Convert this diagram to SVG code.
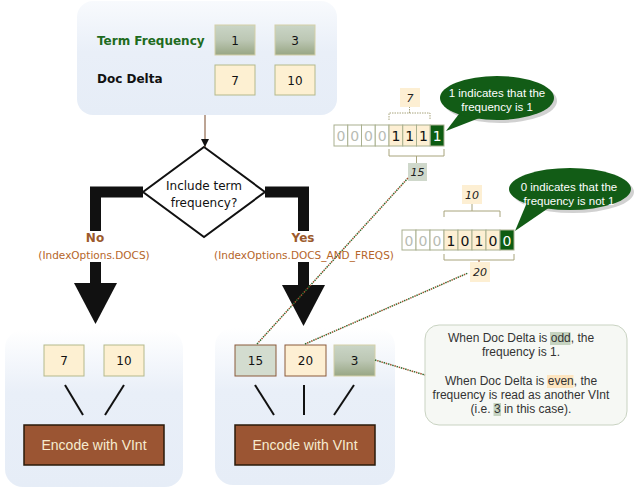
<svg xmlns="http://www.w3.org/2000/svg" width="636" height="491" viewBox="0 0 636 491">
<style>
.lbl{font-family:"DejaVu Sans",Verdana,sans-serif;font-size:12px;text-anchor:middle;fill:#111}
.hdr{font-family:"DejaVu Sans",Verdana,sans-serif;font-size:12px;font-weight:bold}
.num{font-family:"DejaVu Sans",Verdana,sans-serif;font-size:12px;text-anchor:middle;fill:#111}
.cream{fill:#fdf0d2;stroke:#b4b98c;stroke-width:1}
.tf{fill:url(#tfGrad);stroke:#d4d0a8;stroke-width:1}
.enc{fill:#9b5533;stroke:#2a1a0a;stroke-width:1.5}
.enct{font-family:"Liberation Sans",Arial,sans-serif;font-size:14px;fill:#f6ecd0;text-anchor:middle}
.thin{stroke:#111;stroke-width:2;fill:none}
.thick{stroke:#111;stroke-width:11;fill:none;stroke-linejoin:miter;stroke-linecap:butt}
.opt{font-family:"DejaVu Sans",Verdana,sans-serif;font-size:10.5px;fill:#b5652a;text-anchor:middle}
.yn{font-family:"DejaVu Sans",Verdana,sans-serif;font-size:12px;font-weight:bold;fill:#9c5a2c;text-anchor:middle}
.cell0{fill:#fff;stroke:#a9b08f;stroke-width:1}
.cell1{fill:#fdefd3;stroke:#a9b08f;stroke-width:1}
.cellg{fill:#0d5c12;stroke:#a9b08f;stroke-width:1}
.bit{font-family:"DejaVu Sans",Verdana,sans-serif;font-size:14px;text-anchor:middle}
.brk{stroke:#a8a47c;stroke-width:1;fill:none}
.tag{font-family:"DejaVu Sans",Verdana,sans-serif;font-size:11px;font-style:italic;text-anchor:middle;fill:#222}
.bub{fill:#125c16}
.bubt{font-family:"Liberation Sans",Arial,sans-serif;font-size:11.5px;fill:#fff;text-anchor:middle}
.note{font-family:"Liberation Sans",Arial,sans-serif;font-size:12px;fill:#333}
.dg{stroke:#2e6b2e;stroke-width:1.5;stroke-dasharray:1.5 3;fill:none}
.db{stroke:#a0522d;stroke-width:1.5;stroke-dasharray:1.5 3;stroke-dashoffset:2.25;fill:none}
</style>
<defs>
<linearGradient id="panelTop" x1="0" y1="0" x2="0" y2="1">
<stop offset="0" stop-color="#f8fafd"/>
<stop offset="0.45" stop-color="#e9eff8"/>
<stop offset="1" stop-color="#e6edf7"/>
</linearGradient>
<linearGradient id="panelBot" x1="0" y1="0" x2="0" y2="1">
<stop offset="0" stop-color="#ffffff"/>
<stop offset="0.4" stop-color="#e9eff8"/>
<stop offset="1" stop-color="#e6edf7"/>
</linearGradient>
<linearGradient id="tfGrad" x1="0" y1="0" x2="0" y2="1">
<stop offset="0" stop-color="#cad5c6"/>
<stop offset="0.5" stop-color="#bcc7b4"/>
<stop offset="1" stop-color="#98a684"/>
</linearGradient>
<marker id="ah" viewBox="0 0 10 10" refX="10" refY="5" markerWidth="8" markerHeight="8" markerUnits="userSpaceOnUse" orient="auto">
<path d="M0,0 L10,5 L0,10 Z" fill="#111"/>
</marker>
</defs>

<g id="top-panel">
<rect x="77" y="1" width="260" height="114" rx="16" fill="url(#panelTop)"/>
<text class="hdr" x="97" y="45" fill="#1e6b1e">Term Frequency</text>
<text class="hdr" x="97" y="83" fill="#111">Doc Delta</text>
<rect class="tf" x="215" y="25" width="40" height="30"/>
<text class="num" x="235" y="45">1</text>
<rect class="tf" x="275" y="25" width="40" height="30"/>
<text class="num" x="295" y="45">3</text>
<rect class="cream" x="215" y="65" width="40" height="30"/>
<text class="num" x="235" y="85">7</text>
<rect class="cream" x="275" y="65" width="40" height="30"/>
<text class="num" x="295" y="85">10</text>
</g>

<g id="decision">
<polygon points="204,147 265,192 204,237 143,192" fill="#fff" stroke="#111" stroke-width="2"/>
<text class="lbl" x="204" y="190" fill="#2a1a0a">Include term</text>
<text class="lbl" x="204" y="207" fill="#2a1a0a">frequency?</text>
</g>

<g id="left-panel">
<rect x="5" y="330" width="178" height="157" rx="18" fill="url(#panelBot)"/>
<rect class="cream" x="44" y="345" width="40" height="31"/>
<text class="num" x="64" y="365">7</text>
<rect class="cream" x="104" y="345" width="40" height="31"/>
<text class="num" x="124" y="365">10</text>
<line class="thin" x1="65" y1="385" x2="83" y2="415"/>
<line class="thin" x1="124" y1="385" x2="105" y2="415"/>
<rect class="enc" x="24" y="425" width="140" height="40"/>
<text class="enct" x="94" y="450">Encode with VInt</text>
</g>

<g id="right-panel">
<rect x="215" y="328" width="180" height="157" rx="18" fill="url(#panelBot)"/>
<rect x="235" y="345" width="41" height="31" fill="#d3dccf" stroke="#8a5a3a" stroke-width="1"/>
<text class="num" x="255.5" y="365">15</text>
<rect x="285" y="345" width="41" height="31" fill="#fdefd3" stroke="#8a5a3a" stroke-width="1"/>
<text class="num" x="305.5" y="365">20</text>
<rect class="tf" x="334" y="345" width="41" height="31"/>
<text class="num" x="354.5" y="365">3</text>
<line class="thin" x1="255" y1="385" x2="274" y2="415"/>
<line class="thin" x1="304" y1="385" x2="304" y2="415"/>
<line class="thin" x1="354" y1="385" x2="334" y2="415"/>
<rect class="enc" x="235" y="425" width="140" height="40"/>
<text class="enct" x="305" y="450">Encode with VInt</text>
</g>

<g id="bits-15">
<rect class="cell0" x="334" y="125" width="13.75" height="21"/>
<rect class="cell0" x="347.75" y="125" width="13.75" height="21"/>
<rect class="cell0" x="361.5" y="125" width="13.75" height="21"/>
<rect class="cell0" x="375.25" y="125" width="13.75" height="21"/>
<rect class="cell1" x="389" y="125" width="13.75" height="21"/>
<rect class="cell1" x="402.75" y="125" width="13.75" height="21"/>
<rect class="cell1" x="416.5" y="125" width="13.75" height="21"/>
<rect class="cellg" x="430.25" y="125" width="13.75" height="21"/>
<g class="bit">
<text x="340.9" y="141" fill="#b8bcb4">0</text>
<text x="354.6" y="141" fill="#b8bcb4">0</text>
<text x="368.4" y="141" fill="#b8bcb4">0</text>
<text x="382.1" y="141" fill="#b8bcb4">0</text>
<text x="395.9" y="141" fill="#111">1</text>
<text x="409.6" y="141" fill="#111">1</text>
<text x="423.4" y="141" fill="#111">1</text>
<text x="437.1" y="141" fill="#fff">1</text>
</g>
<path class="brk" d="M389,120 V113 H430 V120 M409.5,113 V107" stroke-dasharray="1.5 1"/>
<rect x="400" y="88" width="20" height="19" fill="#fdefd3"/>
<text class="tag" x="410" y="102">7</text>
<path class="brk" d="M389,149 V156 H444 V149 M416.5,156 V163"/>
<rect x="408" y="163" width="19" height="18" fill="#cfd8cb"/>
<text class="tag" x="417.5" y="176">15</text>
</g>

<g id="bits-20">
<rect class="cell0" x="402" y="230" width="14" height="20"/>
<rect class="cell0" x="416" y="230" width="14" height="20"/>
<rect class="cell0" x="430" y="230" width="14" height="20"/>
<rect class="cell1" x="444" y="230" width="14" height="20"/>
<rect class="cell1" x="458" y="230" width="14" height="20"/>
<rect class="cell1" x="472" y="230" width="14" height="20"/>
<rect class="cell1" x="486" y="230" width="14" height="20"/>
<rect class="cellg" x="500" y="230" width="14" height="20"/>
<g class="bit">
<text x="409" y="245.5" fill="#b8bcb4">0</text>
<text x="423" y="245.5" fill="#b8bcb4">0</text>
<text x="437" y="245.5" fill="#b8bcb4">0</text>
<text x="451" y="245.5" fill="#111">1</text>
<text x="465" y="245.5" fill="#111">0</text>
<text x="479" y="245.5" fill="#111">1</text>
<text x="493" y="245.5" fill="#111">0</text>
<text x="507" y="245.5" fill="#fff">0</text>
</g>
<path class="brk" d="M444,217 V211 H500 V217 M472,211 V204"/>
<rect x="462" y="185" width="20" height="19" fill="#fdefd3"/>
<text class="tag" x="472" y="199">10</text>
<path class="brk" d="M444,254 V260 H514 V254"/>
<line x1="479" y1="260" x2="479" y2="263" stroke="#a0522d" stroke-width="1"/>
<rect x="470" y="262" width="20" height="20" fill="#fdefd3"/>
<text class="tag" x="480" y="276">20</text>
</g>

<g id="bubble-1">
<ellipse cx="500" cy="101" rx="57" ry="22" fill="#999" opacity="0.45"/>
<path class="bub" d="M462,110 L446,131 L482,117 Z"/>
<ellipse class="bub" cx="497" cy="98" rx="57" ry="22"/>
<text class="bubt" x="497" y="97">1 indicates that the</text>
<text class="bubt" x="497" y="111">frequency is 1</text>
</g>

<g id="bubble-2">
<ellipse cx="573" cy="192" rx="61" ry="21" fill="#999" opacity="0.45"/>
<path class="bub" d="M528,200 L515,231 L550,207 Z"/>
<ellipse class="bub" cx="570" cy="189" rx="61" ry="21"/>
<text class="bubt" x="569" y="191">0 indicates that the</text>
<text class="bubt" x="569" y="205">frequency is not 1</text>
</g>

<g id="note">
<rect x="425" y="325" width="202" height="100" rx="14" fill="#f6f8f4" stroke="#c9d3c2" stroke-width="1"/>
<rect x="550" y="332" width="20.5" height="13" fill="#c5d3c0"/>
<rect x="547" y="375" width="26.5" height="13" fill="#fde5c0"/>
<rect x="493.5" y="403" width="7.5" height="13" fill="#c5d3c0"/>
<text class="note" x="448" y="342">When Doc Delta is odd, the</text>
<text class="note" x="521" y="356" text-anchor="middle">frequency is 1.</text>
<text class="note" x="445" y="385">When Doc Delta is even, the</text>
<text class="note" x="521" y="399" text-anchor="middle">frequency is read as another VInt</text>
<text class="note" x="470.6" y="413">(i.e. 3 in this case).</text>
</g>

<g id="connectors">
<line x1="205" y1="115" x2="205" y2="147" stroke="#7a4a2a" stroke-width="1" marker-end="url(#ah)"/>
<path class="thick" d="M143,192 H95.5 V231"/>
<path class="thick" d="M95.5,262 V286"/>
<polygon points="74,283 117,283 95.5,324" fill="#111"/>
<path class="thick" d="M265,192 H303.5 V231"/>
<path class="thick" d="M303.5,262 V288"/>
<polygon points="282,285 325,285 303.5,326" fill="#111"/>
<text class="yn" x="95" y="242">No</text>
<text class="opt" x="94" y="259">(IndexOptions.DOCS)</text>
<text class="yn" x="303" y="242">Yes</text>
<text class="opt" x="304" y="259">(IndexOptions.DOCS_AND_FREQS)</text>
<line class="dg" x1="257" y1="344" x2="408" y2="178"/>
<line class="db" x1="257" y1="344" x2="408" y2="178"/>
<line class="dg" x1="305" y1="344" x2="468" y2="273"/>
<line class="db" x1="305" y1="344" x2="468" y2="273"/>
<line class="dg" x1="375" y1="360" x2="425" y2="375"/>
<line class="db" x1="375" y1="360" x2="425" y2="375"/>
</g>
</svg>
